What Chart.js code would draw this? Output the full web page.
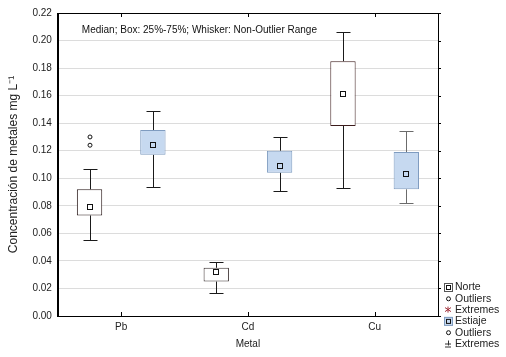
<!DOCTYPE html>
<html>
<head>
<meta charset="utf-8">
<script src="https://cdn.jsdelivr.net/npm/chart.js@4/dist/chart.umd.min.js"></script>
<style>
  html, body { margin: 0; padding: 0; background: #fff; }
  #wrap { width: 506px; height: 357px; }
</style>
</head>
<body>
<div id="wrap"><canvas id="boxChart"></canvas></div>
<script>
// Box plot data (mg L-1)
const categories = ['Pb', 'Cd', 'Cu'];

const norteMin = [0.055, 0.017, 0.093];
const norteQ1 = [0.073, 0.025, 0.138];
const norteMedian = [0.079, 0.032, 0.161];
const norteQ3 = [0.092, 0.035, 0.185];
const norteMax = [0.107, 0.039, 0.206];
const norteOutliers = [[0.130, 0.124], [], []];

const estiajeMin = [0.094, 0.091, 0.082];
const estiajeQ1 = [0.117, 0.104, 0.092];
const estiajeMedian = [0.124, 0.109, 0.103];
const estiajeQ3 = [0.135, 0.120, 0.119];
const estiajeMax = [0.149, 0.130, 0.134];
const estiajeOutliers = [[], [], []];

const yTicks = [0, 0.02, 0.04, 0.06, 0.08, 0.10, 0.12, 0.14, 0.16, 0.18, 0.20, 0.22];

const seriesInfo = [
    { min: norteMin, med: norteMedian, max: norteMax, q1: norteQ1, q3: norteQ3, out: norteOutliers, whisker: '#1a1a1a' },
    { min: estiajeMin, med: estiajeMedian, max: estiajeMax, q1: estiajeQ1, q3: estiajeQ3, out: estiajeOutliers, whisker: '#1a1a1a' }
];

const FONT = "'Liberation Sans', Arial, sans-serif";

// draws whiskers, medians, outliers, frame and the side legend
const boxExtras = {
    id: 'boxExtras',
    beforeDatasetsDraw(chart) {
        const ctx = chart.ctx;
        const yScale = chart.scales.y;
        ctx.save();
        seriesInfo.forEach((s, d) => {
            const meta = chart.getDatasetMeta(d);
            meta.data.forEach((bar, j) => {
                const x = Math.round(bar.x) + 0.5;
                const cap = 7;
                const yMax = Math.round(yScale.getPixelForValue(s.max[j])) + 0.5;
                const yMin = Math.round(yScale.getPixelForValue(s.min[j])) + 0.5;
                const yQ3 = yScale.getPixelForValue(s.q3[j]);
                const yQ1 = yScale.getPixelForValue(s.q1[j]);
                ctx.strokeStyle = (d === 1 && j === 2) ? '#6b6b6b' : s.whisker;
                ctx.lineWidth = 1;
                ctx.beginPath();
                ctx.moveTo(x, yMax); ctx.lineTo(x, yQ3);
                ctx.moveTo(x, yQ1); ctx.lineTo(x, yMin);
                ctx.moveTo(x - cap, yMax); ctx.lineTo(x + cap, yMax);
                ctx.moveTo(x - cap, yMin); ctx.lineTo(x + cap, yMin);
                ctx.stroke();
            });
        });
        ctx.restore();
    },
    afterDatasetsDraw(chart) {
        const ctx = chart.ctx;
        const yScale = chart.scales.y;
        const xScale = chart.scales.x;
        const area = chart.chartArea;
        ctx.save();
        seriesInfo.forEach((s, d) => {
            const meta = chart.getDatasetMeta(d);
            meta.data.forEach((bar, j) => {
                const x = Math.round(bar.x);
                const ym = Math.round(yScale.getPixelForValue(s.med[j]));
                ctx.fillStyle = d === 0 ? '#ffffff' : '#c6d9f0';
                ctx.fillRect(x - 2.5, ym - 2.5, 5, 5);
                ctx.strokeStyle = '#111';
                ctx.lineWidth = 1;
                ctx.strokeRect(x - 2.5, ym - 2.5, 5, 5);
                s.out[j].forEach(v => {
                    const yo = yScale.getPixelForValue(v);
                    ctx.beginPath();
                    ctx.arc(x, yo, 2, 0, Math.PI * 2);
                    ctx.stroke();
                });
            });
        });

        // frame
        ctx.strokeStyle = '#000';
        ctx.lineWidth = 1;
        ctx.strokeRect(Math.round(area.left) + 0.5, Math.round(area.top) + 0.5,
            Math.round(area.right - area.left), Math.round(area.bottom - area.top));

        // small inward ticks on bottom/top, outward ticks on right
        ctx.beginPath();
        categories.forEach((c, i) => {
            const x = Math.round(xScale.getPixelForValue(i)) + 0.5;
            ctx.moveTo(x, area.bottom); ctx.lineTo(x, area.bottom - 4);
            ctx.moveTo(x, area.top); ctx.lineTo(x, area.top + 4);
        });
        yTicks.forEach(v => {
            const y = Math.round(yScale.getPixelForValue(v)) + 0.5;
            ctx.moveTo(area.right, y); ctx.lineTo(area.right + 3, y);
        });
        ctx.stroke();

        // annotation
        ctx.fillStyle = '#111';
        ctx.font = '10px ' + FONT;
        ctx.textBaseline = 'middle';
        ctx.textAlign = 'left';
        ctx.fillText('Median; Box: 25%-75%; Whisker: Non-Outlier Range', area.left + 24, area.top + 17);

        // legend
        const lx = area.right + 6;
        let ly = 287;
        const step = 11.3;
        ctx.font = '10.5px ' + FONT;
        const items = [
            { kind: 'box', fill: '#ffffff', stroke: '#555', label: 'Norte' },
            { kind: 'circle', label: 'Outliers' },
            { kind: 'star', color: '#a0303a', label: 'Extremes' },
            { kind: 'box', fill: '#c6d9f0', stroke: '#7f9cc0', label: 'Estiaje' },
            { kind: 'circle', label: 'Outliers' },
            { kind: 'plus', color: '#333', label: 'Extremes' }
        ];
        items.forEach(it => {
            const cx = lx + 4;
            ctx.lineWidth = 1;
            if (it.kind === 'box') {
                ctx.fillStyle = it.fill;
                ctx.fillRect(cx - 4, ly - 4, 8, 8);
                ctx.strokeStyle = it.stroke;
                ctx.strokeRect(cx - 3.5, ly - 3.5, 8, 8);
                ctx.strokeStyle = '#111';
                ctx.strokeRect(cx - 1.5, ly - 1.5, 4, 4);
            } else if (it.kind === 'circle') {
                ctx.strokeStyle = '#111';
                ctx.beginPath();
                ctx.arc(cx + 0.5, ly + 0.5, 2, 0, Math.PI * 2);
                ctx.stroke();
            } else if (it.kind === 'star') {
                ctx.strokeStyle = it.color;
                ctx.beginPath();
                ctx.moveTo(cx - 3, ly - 2); ctx.lineTo(cx + 3, ly + 2);
                ctx.moveTo(cx - 3, ly + 2); ctx.lineTo(cx + 3, ly - 2);
                ctx.moveTo(cx, ly - 3); ctx.lineTo(cx, ly + 3);
                ctx.stroke();
            } else {
                ctx.strokeStyle = it.color;
                ctx.beginPath();
                ctx.moveTo(cx - 3, ly + 0.5); ctx.lineTo(cx + 3, ly + 0.5);
                ctx.moveTo(cx + 0.5, ly - 3); ctx.lineTo(cx + 0.5, ly + 2);
                ctx.moveTo(cx - 3, ly + 3.5); ctx.lineTo(cx + 3, ly + 3.5);
                ctx.stroke();
            }
            ctx.fillStyle = '#222';
            ctx.fillText(it.label, lx + 11, ly + 0.5);
            ly += step;
        });
        ctx.restore();
    }
};

const ctxBox = document.getElementById('boxChart').getContext('2d');
new Chart(ctxBox, {
    type: 'bar',
    data: {
        labels: categories,
        datasets: [
            {
                label: 'Norte',
                data: categories.map((c, i) => [norteQ1[i], norteQ3[i]]),
                backgroundColor: '#ffffff',
                borderColor: ['#2a1a1a', '#3a3030', '#3c1c1c'],
                borderWidth: 1,
                borderSkipped: false
            },
            {
                label: 'Estiaje',
                data: categories.map((c, i) => [estiajeQ1[i], estiajeQ3[i]]),
                backgroundColor: '#c6d9f0',
                borderColor: '#7f9cc0',
                borderWidth: 1,
                borderSkipped: false
            }
        ]
    },
    options: {
        responsive: true,
        maintainAspectRatio: false,
        animation: false,
        layout: { padding: { top: 13, right: 68, bottom: 3, left: 2 } },
        datasets: {
            bar: { categoryPercentage: 1.0, barPercentage: 0.4, grouped: true }
        },
        plugins: {
            legend: { display: false },
            tooltip: { enabled: false }
        },
        scales: {
            x: {
                grid: { display: false, drawTicks: false },
                border: { display: true, color: '#000' },
                ticks: { color: '#222', font: { family: FONT, size: 10 }, padding: 5 },
                title: { display: true, text: 'Metal', color: '#222', font: { family: FONT, size: 10 }, padding: { top: 0 } }
            },
            y: {
                min: 0,
                max: 0.22,
                afterBuildTicks: axis => { axis.ticks = yTicks.map(v => ({ value: v })); },
                grid: { color: '#dcdcdc', drawTicks: false },
                border: { display: true, color: '#000' },
                ticks: {
                    color: '#222',
                    font: { family: FONT, size: 10 },
                    padding: 6,
                    callback: v => v.toFixed(2)
                },
                title: {
                    display: true,
                    text: 'Concentración de metales mg L⁻¹',
                    color: '#222',
                    font: { family: FONT, size: 12 },
                    padding: { bottom: 6 }
                }
            }
        }
    },
    plugins: [boxExtras]
});
</script>
</body>
</html>
